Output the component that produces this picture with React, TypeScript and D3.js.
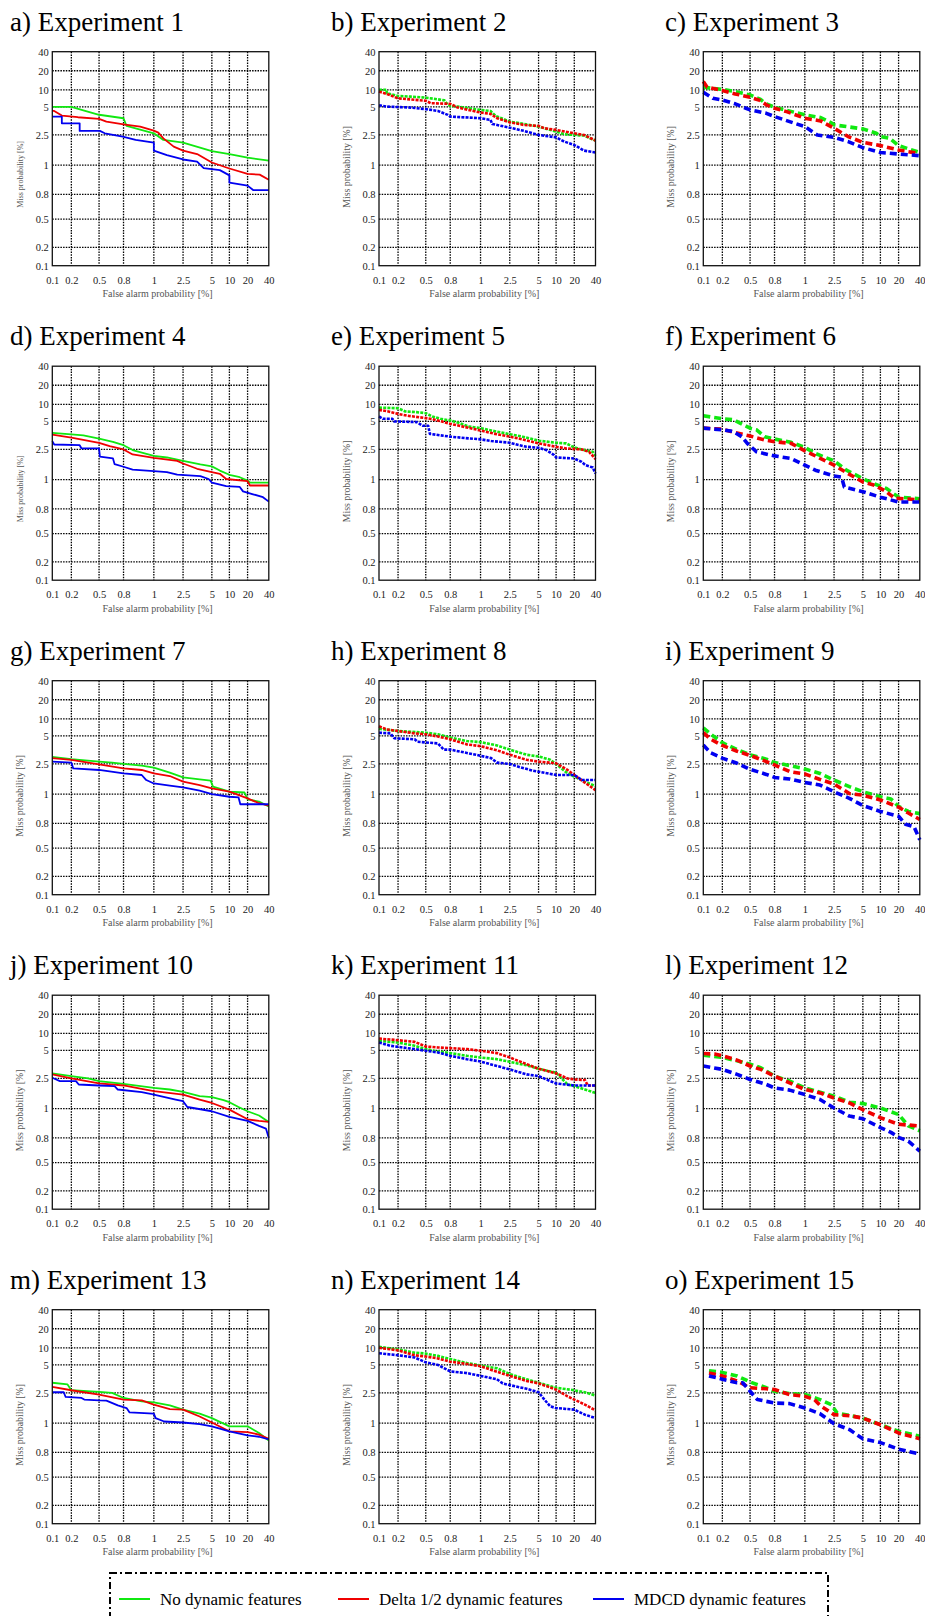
import { useEffect, useRef } from 'react';
import * as d3 from 'd3';

// DET-style axes: both axes share the same printed tick values,
// placed at uneven positions along the axis.
const TICKS = [0.1, 0.2, 0.5, 0.8, 1, 2.5, 5, 10, 20, 40];
const TICK_LABELS = ['0.1', '0.2', '0.5', '0.8', '1', '2.5', '5', '10', '20', '40'];
const X_FRAC = [0, 0.088, 0.216, 0.329, 0.469, 0.604, 0.737, 0.818, 0.902, 1];
const Y_FRAC = [0, 0.086, 0.218, 0.333, 0.47, 0.611, 0.742, 0.822, 0.911, 1];

const SERIES_NAMES = ['No dynamic features', 'Delta 1/2 dynamic features', 'MDCD dynamic features'];
const PANEL_TITLES = [
    'a) Experiment 1', 'b) Experiment 2', 'c) Experiment 3',
    'd) Experiment 4', 'e) Experiment 5', 'f) Experiment 6',
    'g) Experiment 7', 'h) Experiment 8', 'i) Experiment 9',
    'j) Experiment 10', 'k) Experiment 11', 'l) Experiment 12',
    'm) Experiment 13', 'n) Experiment 14', 'o) Experiment 15',
];

// [false alarm %, miss %]
const e1None = [[0.1, 5], [0.2, 5], [0.33, 4.7], [0.5, 4.3], [0.8, 3.99], [0.82, 3.3], [1, 2.65], [1.49, 2.25], [2.5, 2.12], [5, 1.7], [10, 1.55], [20, 1.37], [40, 1.22]];
const e1Delta = [[0.1, 4.64], [0.11, 4.64], [0.15, 4.23], [0.27, 4.08], [0.5, 3.93], [0.59, 3.69], [0.8, 3.45], [0.91, 3.24], [1, 2.89], [1.23, 2.71], [1.49, 2.33], [2.02, 1.92], [2.5, 1.72], [3.72, 1.55], [5, 1.13], [10, 0.977], [20, 0.94], [31.4, 0.935], [40, 0.9]];
const e1Mdcd = [[0.1, 4.14], [0.15, 4.14], [0.15, 3.54], [0.29, 3.54], [0.29, 2.86], [0.51, 2.86], [0.57, 2.65], [0.79, 2.42], [0.88, 2.25], [1, 2.12], [1, 1.72], [1.67, 1.5], [2.5, 1.28], [3.72, 1.17], [4.29, 0.98], [7.27, 0.966], [10, 0.93], [10, 0.88], [20, 0.86], [25.2, 0.83], [40, 0.83]];

const e2None = [[0.1, 10], [0.14, 10], [0.14, 9], [0.2, 8.2], [0.34, 8], [0.5, 7.7], [0.65, 7.2], [0.73, 6.9], [0.77, 5.6], [0.8, 5.3], [0.85, 5.1], [1, 4.73], [1.51, 4.64], [1.77, 4.2], [2.5, 3.69], [3.74, 3.48], [5, 3.24], [10, 2.8], [14.5, 2.56], [20, 2.5], [29.2, 2.47], [40, 2.22]];
const e2Delta = [[0.1, 9.5], [0.14, 8.8], [0.2, 7.5], [0.5, 6.8], [0.56, 6.1], [0.8, 5.9], [0.85, 4.94], [1, 4.5], [1.51, 4.38], [1.85, 3.99], [2.5, 3.63], [3.74, 3.39], [5, 3.3], [6.63, 3.1], [10, 2.95], [20, 2.65], [29.2, 2.5], [40, 2.22]];
const e2Mdcd = [[0.1, 5.49], [0.14, 5.1], [0.34, 4.94], [0.5, 4.8], [0.65, 4.64], [0.77, 4.29], [0.8, 4.14], [1, 3.99], [1.51, 3.84], [1.6, 3.48], [2.5, 3.15], [3.74, 2.86], [5, 2.5], [10, 2.38], [14.5, 2.17], [20, 2], [29.2, 1.72], [40, 1.63]];

const e3None = [[0.1, 11.4], [0.2, 10.2], [0.34, 9.5], [0.5, 8.5], [0.62, 7.3], [0.7, 5.9], [0.8, 4.97], [1, 4.29], [1.81, 4.05], [2.33, 3.6], [2.5, 3.4], [5, 3.04], [8.82, 2.65], [10, 2.42], [15.1, 2.33], [20, 1.97], [40, 1.63]];
const e3Delta = [[0.1, 14.4], [0.12, 11.4], [0.2, 9.8], [0.34, 8.8], [0.5, 7.8], [0.62, 6.9], [0.7, 5.6], [0.8, 4.88], [0.88, 4.58], [1, 3.99], [1.81, 3.75], [2.5, 3.1], [3.72, 2.42], [5, 2.13], [10, 1.97], [20, 1.75], [40, 1.57]];
const e3Mdcd = [[0.1, 9.3], [0.15, 7.5], [0.2, 7], [0.34, 5.9], [0.5, 4.73], [0.7, 4.43], [0.8, 4.14], [0.88, 3.78], [1, 3.24], [1.64, 2.5], [2.5, 2.38], [3.72, 2.17], [5, 1.87], [10, 1.63], [20, 1.55], [40, 1.47]];

const e4None = [[0.1, 3.97], [0.2, 3.85], [0.33, 3.76], [0.5, 3.47], [0.67, 3.18], [0.8, 2.88], [0.86, 2.47], [1, 2.18], [1.67, 2.1], [2.5, 1.93], [4, 1.76], [5, 1.66], [7.27, 1.45], [10, 1.24], [15.7, 1.12], [20, 0.993], [22.2, 0.98], [40, 0.98]];
const e4Delta = [[0.1, 3.82], [0.2, 3.56], [0.5, 3.09], [0.63, 2.79], [0.8, 2.5], [0.86, 2.25], [1, 2.08], [2.2, 1.93], [2.5, 1.8], [3.72, 1.54], [5, 1.37], [7.27, 1.29], [9.09, 1.03], [20, 0.99], [22.2, 0.96], [40, 0.96]];
const e4Mdcd = [[0.1, 3.24], [0.11, 2.94], [0.29, 2.88], [0.31, 2.59], [0.5, 2.59], [0.51, 2.14], [0.67, 2.06], [0.69, 1.77], [0.8, 1.64], [0.86, 1.5], [1, 1.42], [1.67, 1.37], [2.2, 1.25], [4, 1.17], [4.72, 1.03], [5, 0.98], [9.09, 0.956], [15.7, 0.95], [17.5, 0.92], [25.2, 0.9], [34.5, 0.88], [40, 0.85]];

const e5None = [[0.1, 9.04], [0.2, 8.85], [0.28, 7.9], [0.4, 7.7], [0.5, 7.4], [0.58, 6.44], [0.68, 5.77], [0.8, 5.29], [0.86, 4.85], [0.92, 4.55], [1, 4.4], [1.55, 4.19], [2.5, 3.86], [3.61, 3.64], [5, 3.28], [10, 3.1], [15.6, 3.04], [20, 2.68], [27, 2.5], [37.5, 2.38], [40, 2.18]];
const e5Delta = [[0.1, 8.37], [0.15, 7.9], [0.2, 7.2], [0.32, 6.6], [0.5, 5.96], [0.58, 5.67], [0.8, 4.79], [0.86, 4.61], [1, 4.19], [1.75, 3.89], [2.5, 3.64], [3.61, 3.4], [5, 3.04], [10, 2.74], [15.6, 2.59], [27, 2.5], [34, 2.38], [40, 2.02]];
const e5Mdcd = [[0.1, 6.44], [0.12, 5.77], [0.17, 5.77], [0.18, 5], [0.4, 4.94], [0.47, 4.61], [0.53, 4.61], [0.55, 3.89], [0.8, 3.64], [0.92, 3.49], [1, 3.4], [1.55, 3.25], [2.5, 3.1], [3.26, 2.89], [3.96, 2.74], [5, 2.65], [7.22, 2.47], [9.44, 2.22], [10, 2.1], [20, 2.05], [27, 1.88], [30.5, 1.72], [37.5, 1.6], [40, 1.3]];

const e6None = [[0.1, 6.63], [0.2, 5.77], [0.32, 5.48], [0.5, 4.4], [0.58, 4.25], [0.68, 3.64], [0.8, 3.43], [0.91, 3.13], [1, 2.68], [1.54, 2.3], [2.5, 1.93], [3.57, 1.47], [5, 1.05], [8.33, 0.97], [13.3, 0.94], [20, 0.88], [40, 0.87]];
const e6Delta = [[0.1, 4.4], [0.2, 4.31], [0.32, 4.04], [0.5, 3.7], [0.68, 3.34], [0.8, 3.19], [0.91, 3.04], [1, 2.43], [1.35, 2.27], [2.5, 1.72], [3.57, 1.35], [5, 0.984], [8.33, 0.962], [13.3, 0.918], [17.8, 0.873], [40, 0.862]];
const e6Mdcd = [[0.1, 4.4], [0.2, 4.25], [0.32, 4.1], [0.41, 3.64], [0.47, 3.04], [0.58, 2.38], [0.8, 2.18], [0.91, 2.05], [1, 1.72], [1.54, 1.47], [2.5, 1.18], [3.14, 1.13], [3.39, 0.95], [5, 0.918], [10, 0.88], [15.6, 0.862], [20, 0.847], [40, 0.847]];

const e7None = [[0.1, 3.14], [0.2, 2.93], [0.5, 2.71], [0.66, 2.62], [0.8, 2.5], [0.92, 2.42], [1, 2.32], [1.82, 2.07], [2.5, 1.83], [3.94, 1.73], [4.89, 1.67], [5.33, 1.37], [10, 1.12], [18.3, 1.08], [20, 0.964], [30.8, 0.949], [40, 0.916]];
const e7Delta = [[0.1, 3.02], [0.2, 2.87], [0.5, 2.48], [0.8, 2.28], [0.92, 2.2], [1, 2.03], [1.82, 1.9], [2.5, 1.62], [3.94, 1.45], [5, 1.28], [10, 1.12], [20, 0.971], [30.8, 0.938], [40, 0.922]];
const e7Mdcd = [[0.1, 2.71], [0.2, 2.62], [0.22, 2.28], [0.5, 2.2], [0.8, 2.03], [0.92, 1.95], [0.95, 1.7], [1, 1.53], [1.82, 1.42], [2.5, 1.33], [3.94, 1.17], [5, 1], [10, 0.982], [15, 0.978], [16, 0.931], [40, 0.931]];

const e8None = [[0.1, 7.08], [0.2, 6.42], [0.5, 5.94], [0.65, 5.47], [0.8, 4.85], [0.91, 4.54], [1, 4.45], [1.84, 4.15], [2.5, 3.78], [3.96, 3.32], [5, 3.17], [8.33, 2.87], [10, 2.5], [16.3, 2.03], [20, 1.87], [30, 1.62], [40, 1.4]];
const e8Delta = [[0.1, 7.83], [0.14, 6.9], [0.2, 6.42], [0.38, 5.75], [0.5, 5.47], [0.65, 4.94], [0.8, 4.7], [0.91, 4.24], [1, 4.09], [1.84, 3.72], [2.5, 3.32], [3.96, 2.87], [5, 2.71], [10, 2.56], [16.3, 2.2], [20, 1.95], [30, 1.57], [40, 1.2]];
const e8Mdcd = [[0.1, 5.94], [0.16, 5.75], [0.18, 4.79], [0.38, 4.7], [0.41, 4.48], [0.65, 4.33], [0.72, 3.78], [0.8, 3.78], [0.91, 3.48], [1, 3.23], [1.54, 3.02], [1.84, 2.62], [2.5, 2.5], [3.44, 2.33], [4.48, 2.17], [10, 1.95], [20, 1.95], [27.2, 1.7], [40, 1.7]];

const e9None = [[0.1, 7.36], [0.14, 5.47], [0.2, 4.39], [0.36, 3.78], [0.5, 3.32], [0.7, 2.93], [0.8, 2.62], [0.9, 2.42], [1, 2.25], [1.78, 2.03], [2.5, 1.7], [3.83, 1.37], [5, 1.12], [10, 0.982], [15.8, 0.967], [20, 0.916], [29.2, 0.882], [40, 0.867]];
const e9Delta = [[0.1, 5.94], [0.14, 4.7], [0.2, 4.15], [0.36, 3.63], [0.5, 3.26], [0.7, 2.71], [0.8, 2.45], [0.9, 2.12], [1, 2], [1.78, 1.73], [2.5, 1.5], [3.83, 1.03], [5, 0.993], [10, 0.96], [20, 0.911], [29.2, 0.871], [40, 0.827]];
const e9Mdcd = [[0.1, 4.18], [0.14, 3.48], [0.2, 3.02], [0.36, 2.56], [0.5, 2.23], [0.7, 1.98], [0.8, 1.83], [0.9, 1.75], [1, 1.58], [1.78, 1.45], [2.5, 1.12], [3.83, 0.971], [5, 0.922], [10, 0.882], [20, 0.849], [26.5, 0.79], [34.6, 0.76], [40, 0.6]];

const e10None = [[0.1, 2.95], [0.2, 2.71], [0.38, 2.5], [0.5, 2.37], [0.8, 2.23], [1, 2.03], [1.82, 1.95], [2.5, 1.83], [3.94, 1.62], [5, 1.57], [8.33, 1.42], [10, 1.32], [15, 1.08], [20, 0.982], [30.8, 0.953], [40, 0.909]];
const e10Delta = [[0.1, 2.86], [0.2, 2.5], [0.5, 2.25], [0.8, 2.15], [0.92, 1.98], [1, 1.87], [2.5, 1.7], [3.94, 1.45], [5, 1.28], [10, 0.993], [20, 0.927], [30.8, 0.916], [40, 0.909]];
const e10Mdcd = [[0.1, 2.56], [0.14, 2.37], [0.25, 2.37], [0.28, 2.2], [0.5, 2.15], [0.69, 2.12], [0.73, 1.95], [0.92, 1.82], [1, 1.7], [2.12, 1.45], [2.5, 1.37], [2.87, 1.08], [5, 0.982], [10, 0.944], [20, 0.916], [30.8, 0.882], [37.3, 0.864], [40, 0.8]];

const e11None = [[0.1, 7.79], [0.2, 7.3], [0.38, 6.35], [0.5, 5.38], [0.65, 4.91], [0.8, 4.76], [0.91, 4.52], [1, 4.37], [1.84, 4.22], [2.5, 3.98], [3.96, 3.67], [5, 3.37], [10, 3.01], [16.3, 2.2], [20, 2.12], [30, 1.95], [40, 1.78]];
const e11Delta = [[0.1, 8.46], [0.2, 7.98], [0.38, 7.5], [0.5, 6.15], [0.65, 5.87], [0.8, 5.67], [0.91, 5.38], [1, 4.97], [1.84, 4.76], [2.5, 4.37], [3.96, 3.77], [5, 3.37], [10, 2.95], [16.3, 2.5], [20, 2.45], [30, 2.42], [32.8, 2.15], [40, 2.15]];
const e11Mdcd = [[0.1, 7.3], [0.16, 6.35], [0.38, 5.38], [0.5, 4.97], [0.65, 4.82], [0.8, 4.52], [0.91, 4.22], [1, 4.01], [1.84, 3.61], [2.5, 3.31], [3.96, 2.86], [5, 2.71], [8.33, 2.37], [10, 2.25], [20, 2.15], [40, 2.15]];

const e12None = [[0.1, 4.58], [0.2, 4.37], [0.36, 4.07], [0.5, 3.77], [0.63, 3.46], [0.8, 2.71], [0.9, 2.37], [1, 2.03], [1.78, 1.82], [2.5, 1.62], [3.83, 1.32], [5, 1.25], [10, 1.03], [20, 0.96], [29.2, 0.882], [40, 0.849]];
const e12Delta = [[0.1, 4.73], [0.16, 4.67], [0.2, 4.52], [0.36, 4.13], [0.5, 3.61], [0.63, 3.31], [0.8, 2.71], [0.9, 2.28], [1, 1.95], [1.78, 1.78], [2.5, 1.53], [3.83, 1.28], [5, 0.993], [10, 0.938], [20, 0.893], [40, 0.882]];
const e12Mdcd = [[0.1, 3.61], [0.2, 3.31], [0.36, 2.86], [0.5, 2.45], [0.7, 2.2], [0.8, 2.03], [0.9, 1.92], [1, 1.7], [1.78, 1.45], [2.5, 1.03], [3.83, 0.949], [5, 0.931], [10, 0.871], [15.8, 0.838], [20, 0.804], [29.2, 0.76], [40, 0.64]];

const e13None = [[0.1, 3.41], [0.18, 3.26], [0.2, 2.74], [0.5, 2.59], [0.66, 2.5], [0.8, 2.25], [0.92, 2.08], [1, 2.03], [1.82, 1.88], [2.5, 1.67], [3.94, 1.47], [5, 1.25], [10, 0.978], [20, 0.978], [30.8, 0.933], [40, 0.882]];
const e13Delta = [[0.1, 3.05], [0.2, 2.74], [0.5, 2.42], [0.8, 2.17], [0.92, 2.13], [1, 1.92], [1.82, 1.7], [2.5, 1.67], [3.94, 1.33], [5, 1.03], [10, 0.944], [20, 0.938], [30.8, 0.922], [40, 0.893]];
const e13Mdcd = [[0.1, 2.56], [0.16, 2.56], [0.17, 2.3], [0.31, 2.25], [0.34, 2.17], [0.5, 2.13], [0.59, 2.12], [0.73, 1.88], [0.82, 1.75], [0.84, 1.53], [1, 1.47], [1.09, 1.25], [1.53, 1.08], [2.5, 1.03], [3.94, 0.993], [5, 0.978], [10, 0.944], [20, 0.916], [30.8, 0.907], [40, 0.889]];

const e14None = [[0.1, 10.5], [0.2, 9.53], [0.38, 8.58], [0.5, 8.3], [0.65, 7.64], [0.8, 6.7], [0.91, 5.57], [1, 4.94], [1.84, 4.7], [2.5, 4.18], [3.96, 3.72], [5, 3.41], [10, 2.96], [20, 2.74], [30, 2.56], [40, 2.37]];
const e14Delta = [[0.1, 10], [0.2, 9.25], [0.38, 7.83], [0.5, 7.45], [0.65, 6.89], [0.8, 5.94], [0.91, 5.28], [1, 4.88], [1.84, 4.39], [2.5, 4.02], [3.96, 3.57], [5, 3.35], [10, 2.8], [16.3, 2.33], [20, 2.17], [30, 1.92], [40, 1.63]];
const e14Mdcd = [[0.1, 8.4], [0.2, 7.83], [0.38, 7.17], [0.5, 5.75], [0.65, 5], [0.8, 4.42], [0.91, 4.27], [1, 4.02], [1.84, 3.72], [2.14, 3.35], [2.5, 3.2], [3.96, 2.87], [5, 2.56], [6.67, 2.17], [8.33, 1.83], [10, 1.75], [20, 1.67], [30, 1.42], [40, 1.25]];

const e15None = [[0.13, 4.48], [0.2, 4.33], [0.36, 4.02], [0.5, 3.48], [0.7, 2.96], [0.8, 2.65], [0.9, 2.47], [1, 2.42], [1.78, 2.17], [2.36, 1.92], [2.77, 1.5], [5, 1.25], [10, 0.989], [20, 0.944], [40, 0.911]];
const e15Delta = [[0.13, 4.27], [0.2, 4.02], [0.36, 3.57], [0.5, 2.96], [0.7, 2.87], [0.8, 2.8], [0.9, 2.42], [1, 2.33], [1.49, 2.17], [1.78, 1.88], [2.5, 1.42], [3.83, 1.37], [5, 1.25], [10, 0.989], [20, 0.933], [40, 0.893]];
const e15Mdcd = [[0.13, 4.02], [0.2, 3.72], [0.36, 3.41], [0.42, 3.41], [0.5, 2.65], [0.59, 2.17], [0.8, 2], [0.9, 1.97], [1, 1.75], [1.78, 1.47], [2.5, 0.996], [3.83, 0.956], [5, 0.893], [10, 0.867], [20, 0.822], [40, 0.78]];

const PANELS = [
    [e1None, e1Delta, e1Mdcd], [e2None, e2Delta, e2Mdcd], [e3None, e3Delta, e3Mdcd],
    [e4None, e4Delta, e4Mdcd], [e5None, e5Delta, e5Mdcd], [e6None, e6Delta, e6Mdcd],
    [e7None, e7Delta, e7Mdcd], [e8None, e8Delta, e8Mdcd], [e9None, e9Delta, e9Mdcd],
    [e10None, e10Delta, e10Mdcd], [e11None, e11Delta, e11Mdcd], [e12None, e12Delta, e12Mdcd],
    [e13None, e13Delta, e13Mdcd], [e14None, e14Delta, e14Mdcd], [e15None, e15Delta, e15Mdcd],
];

const COLORS = ['#10e810', '#f00000', '#0000f0'];
const SERIF = 'Liberation Serif, DejaVu Serif, serif';

const W = 925;
const H = 1616;
const COL_X = [52.3, 379, 703.3];
const COL_TITLE_X = [10, 331, 665];
const ROW_Y0 = 51.7;
const ROW_STEP = 314.5;
const PW = 216.5;
const PH = 214;

// left column solid, middle column fine dashes, right column long dashes
const COL_STROKE = [
    { width: 1.8, dash: null },
    { width: 2.6, dash: '3,1.2' },
    { width: 3.6, dash: '7,4' },
];

export default function App() {
    const svgRef = useRef<SVGSVGElement | null>(null);

    useEffect(() => {
        if (!svgRef.current) return;
        const svg = d3.select(svgRef.current);
        svg.selectAll('*').remove();
        svg.attr('font-family', SERIF);

        PANELS.forEach((series, i) => {
            const col = i % 3;
            const row = Math.floor(i / 3);
            const x0 = COL_X[col];
            const y0 = ROW_Y0 + row * ROW_STEP;

            const x = d3.scaleLinear().domain(TICKS).range(X_FRAC.map(f => x0 + f * PW));
            const y = d3.scaleLinear().domain(TICKS).range(Y_FRAC.map(f => y0 + PH - f * PH));

            const g = svg.append('g').attr('font-family', SERIF);

            g.append('text')
                .attr('x', COL_TITLE_X[col]).attr('y', y0 - 21)
                .attr('font-family', SERIF).attr('font-size', 27)
                .attr('fill', '#000')
                .text(PANEL_TITLES[i]);

            // Grid
            const inner = TICKS.slice(1, -1);
            g.append('g').selectAll('line')
                .data(inner)
                .join('line')
                .attr('x1', d => x(d)).attr('x2', d => x(d))
                .attr('y1', y0).attr('y2', y0 + PH)
                .attr('stroke', '#000').attr('stroke-width', 1.3)
                .attr('stroke-dasharray', '1.5,1.2');
            g.append('g').selectAll('line')
                .data(inner)
                .join('line')
                .attr('x1', x0).attr('x2', x0 + PW)
                .attr('y1', d => y(d)).attr('y2', d => y(d))
                .attr('stroke', '#000').attr('stroke-width', 1.3)
                .attr('stroke-dasharray', '1.5,1.2');

            // Curves
            const line = d3.line<number[]>().x(d => x(d[0])).y(d => y(d[1]));
            const st = COL_STROKE[col];
            series.forEach((pts, k) => {
                g.append('path')
                    .attr('d', line(pts))
                    .attr('fill', 'none')
                    .attr('stroke', COLORS[k])
                    .attr('stroke-width', st.width)
                    .attr('stroke-dasharray', st.dash)
                    .attr('stroke-linejoin', 'round');
            });

            // Frame
            g.append('rect')
                .attr('x', x0).attr('y', y0).attr('width', PW).attr('height', PH)
                .attr('fill', 'none').attr('stroke', '#111').attr('stroke-width', 1.3);

            // Axes
            const xAxis = g.append('g')
                .attr('transform', `translate(0,${y0 + PH})`)
                .call(d3.axisBottom(x).tickValues(TICKS).tickSize(0).tickPadding(10.4)
                    .tickFormat((_d, j) => TICK_LABELS[j]));
            xAxis.select('.domain').remove();
            xAxis.attr('font-family', SERIF).attr('font-size', 10.5);
            xAxis.selectAll('text').attr('fill', '#222');

            const yAxis = g.append('g')
                .attr('transform', `translate(${x0},0)`)
                .call(d3.axisLeft(y).tickValues(TICKS).tickSize(0).tickPadding(3.5)
                    .tickFormat((_d, j) => TICK_LABELS[j]));
            yAxis.select('.domain').remove();
            yAxis.attr('font-family', SERIF).attr('font-size', 10.5);
            yAxis.selectAll('text').attr('fill', '#222');

            g.append('text')
                .attr('x', x0 + PW / 2 - 3).attr('y', y0 + PH + 31.6)
                .attr('text-anchor', 'middle')
                .attr('font-family', SERIF).attr('font-size', 10)
                .attr('fill', '#555')
                .text('False alarm probability [%]');

            const small = i === 0 || i === 3;
            g.append('text')
                .attr('transform', `translate(${x0 - 29},${y0 + 156}) rotate(-90)`)
                .attr('text-anchor', 'start')
                .attr('font-family', SERIF).attr('font-size', small ? 8 : 9.8)
                .attr('fill', '#555')
                .text('Miss probability [%]');
        });

        // Legend
        const lg = svg.append('g').attr('font-family', SERIF);
        lg.append('rect')
            .attr('x', 110).attr('y', 1573).attr('width', 718).attr('height', 70)
            .attr('fill', 'none').attr('stroke', '#000').attr('stroke-width', 2)
            .attr('stroke-dasharray', '7,3,2,3');
        const legendX = [119, 338, 593];
        SERIES_NAMES.forEach((name, k) => {
            lg.append('line')
                .attr('x1', legendX[k]).attr('x2', legendX[k] + 31)
                .attr('y1', 1599).attr('y2', 1599)
                .attr('stroke', COLORS[k]).attr('stroke-width', 2);
            lg.append('text')
                .attr('x', legendX[k] + 41).attr('y', 1605)
                .attr('font-size', 17)
                .attr('fill', '#000')
                .text(name);
        });
    }, []);

    return (
        <>
            <style>{'body{margin:0;}'}</style>
            <svg ref={svgRef} width={W} height={H}
                style={{ display: 'block', background: '#fff' }} />
        </>
    );
}
